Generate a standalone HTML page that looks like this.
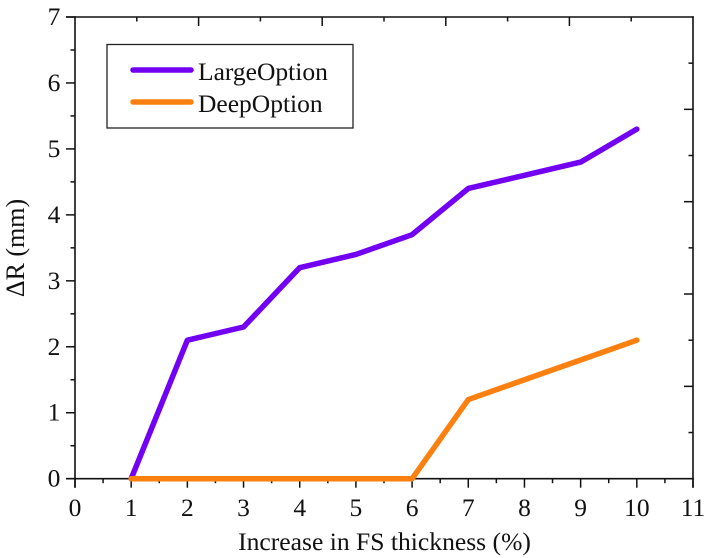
<!DOCTYPE html>
<html>
<head>
<meta charset="utf-8">
<style>
html,body{margin:0;padding:0;background:#fff;width:709px;height:558px;overflow:hidden}
svg{display:block}
text{font-family:"Liberation Serif",serif;fill:#111}
</style>
</head>
<body>
<svg id="chart" width="709" height="558" viewBox="0 0 709 558" xmlns="http://www.w3.org/2000/svg">
<text x="384.5" y="550" font-size="25.6" text-anchor="middle">Increase in FS thickness (%)</text>
<text transform="translate(24,248) rotate(-90)" font-size="26" text-anchor="middle">ΔR (mm)</text>
<g id="ticks"></g>
<g id="lines"></g>
<g id="legend">
<rect x="107" y="44.500" width="246" height="83.500" fill="#fff" stroke="#222" stroke-width="1.300"/>
<line x1="133" y1="70" x2="191" y2="70" stroke="#7200f2" stroke-width="5.500" stroke-linecap="round"/>
<text x="198" y="80" font-size="25.500">LargeOption</text>
<line x1="133" y1="102" x2="191" y2="102" stroke="#fb8010" stroke-width="5.500" stroke-linecap="round"/>
<text x="198" y="112" font-size="25.500">DeepOption</text>
</g>
</svg>
<script>
const xCategories = [1, 2, 3, 4, 5, 6, 7, 8, 9, 10];
const largeOption = [0, 2.1, 2.3, 3.2, 3.4, 3.7, 4.4, 4.6, 4.8, 5.3];
const deepOption = [0, 0, 0, 0, 0, 0, 1.2, 1.5, 1.8, 2.1];
const xTickLabels = [0, 1, 2, 3, 4, 5, 6, 7, 8, 9, 10, 11];
const yTickLabels = [0, 1, 2, 3, 4, 5, 6, 7];
const mirrorTickSteps = [1, 2, 3, 4, 5, 6, 7, 8, 9];

const SVGNS = 'http://www.w3.org/2000/svg';
const LEFT = 75, RIGHT = 693, TOP = 17, BOTTOM = 478.7;
const XMAX = 11, YMAX = 7, MIRROR_MAX = 10;
const sx = v => LEFT + (v / XMAX) * (RIGHT - LEFT);
const sy = v => BOTTOM - (v / YMAX) * (BOTTOM - TOP);
const mirrorX = v => LEFT + (v / MIRROR_MAX) * (RIGHT - LEFT);
const mirrorY = v => BOTTOM - (v / MIRROR_MAX) * (BOTTOM - TOP);

const ticks = document.getElementById('ticks');
const linesGroup = document.getElementById('lines');

function drawLine(parent, name, x1, y1, x2, y2, w) {
  const el = document.createElementNS(SVGNS, 'line');
  
  
  el.setAttribute('x1', x1);
  el.setAttribute('y1', y1);
  el.setAttribute('x2', x2);
  el.setAttribute('y2', y2);
  el.setAttribute('stroke', '#111');
  el.setAttribute('stroke-width', w);
  parent.appendChild(el);
}
function drawLabel(name, x, y, txt) {
  const el = document.createElementNS(SVGNS, 'text');
  
  
  el.setAttribute('x', x);
  el.setAttribute('y', y);
  el.setAttribute('font-size', '25.5');
  el.setAttribute('text-anchor', 'middle');
  el.textContent = txt;
  ticks.appendChild(el);
}

drawLine(ticks, 'x-axis-line', LEFT - 9, BOTTOM, RIGHT + 0.8, BOTTOM, 1.6);
drawLine(ticks, 'y-axis-line', LEFT, TOP - 0.8, LEFT, BOTTOM + 9, 1.6);
drawLine(ticks, 'top-axis-line', LEFT - 9, TOP, RIGHT + 0.8, TOP, 1.6);
drawLine(ticks, 'right-axis-line', RIGHT, TOP - 0.8, RIGHT, BOTTOM + 9, 1.6);

xTickLabels.forEach((v, i) => {
  const px = sx(v);
  drawLine(ticks, 'x-tick', px, BOTTOM, px, BOTTOM + 9, 1.5);
  drawLabel('x-tick-label', px, 516, String(v));
  if (i < xTickLabels.length - 1) {
    const m = sx(v + 0.5);
    drawLine(ticks, 'x-minor-tick', m, BOTTOM, m, BOTTOM + 4.5, 1.5);
  }
});
yTickLabels.forEach((v, i) => {
  const py = sy(v);
  drawLine(ticks, 'y-tick', LEFT - 9, py, LEFT, py, 1.5);
  drawLabel('y-tick-label', 54, py + 8, String(v));
  if (i < yTickLabels.length - 1) {
    const m = sy(v + 0.5);
    drawLine(ticks, 'y-minor-tick', LEFT - 4.5, m, LEFT, m, 1.5);
  }
});
mirrorTickSteps.forEach(v => {
  const len = v % 2 === 0 ? 9 : 4.5;
  const tx = mirrorX(v);
  const ty = mirrorY(v);
  drawLine(ticks, 'top-tick', tx, TOP, tx, TOP + len, 1.5);
  drawLine(ticks, 'right-tick', RIGHT - len, ty, RIGHT, ty, 1.5);
});

function drawSeries(name, values, color) {
  const el = document.createElementNS(SVGNS, 'polyline');
  
  
  el.setAttribute('points', xCategories.map((c, i) => sx(c) + ',' + sy(values[i])).join(' '));
  el.setAttribute('fill', 'none');
  el.setAttribute('stroke', color);
  el.setAttribute('stroke-width', '5.5');
  el.setAttribute('stroke-linejoin', 'round');
  el.setAttribute('stroke-linecap', 'round');
  linesGroup.appendChild(el);
}
drawSeries('series-largeoption', largeOption, '#7200f2');
drawSeries('series-deepoption', deepOption, '#fb8010');
</script>
</body>
</html>
